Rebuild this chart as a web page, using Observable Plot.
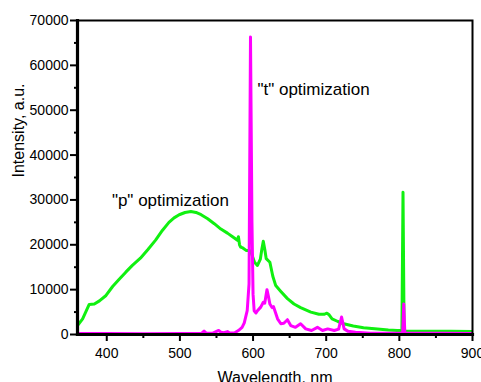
<!DOCTYPE html>
<html>
<head>
<meta charset="utf-8">
<script src="https://cdn.jsdelivr.net/npm/d3@7"></script>
<script src="https://cdn.jsdelivr.net/npm/@observablehq/plot@0.6"></script>
<style>
  html, body { margin: 0; padding: 0; background: #fff; }
  #chart { width: 481px; height: 382px; overflow: hidden; }
</style>
</head>
<body>
<div id="chart"></div>
<script>
// "p" optimization spectrum (green)
const pWavelength = [360, 367, 376, 383, 390, 399, 408, 417, 426, 435, 446, 456, 467, 476, 485, 492, 499, 507, 515, 522, 529, 538, 547, 556, 565, 572, 578.7, 580, 581.5, 583, 586, 591, 595, 598, 602, 606, 610, 612, 614, 616, 618, 623, 627, 631, 638, 647, 656, 665, 679, 690, 697, 701, 704, 708, 716, 724, 737, 751, 770, 785, 797, 803.5, 805, 806.5, 815, 840, 870, 900];
const pIntensity  = [2000, 3500, 6700, 6800, 7500, 8700, 10700, 12300, 13900, 15400, 17000, 18900, 21100, 23200, 25000, 26000, 26700, 27200, 27400, 27200, 26700, 25800, 24700, 23500, 22600, 21800, 21000, 21800, 20000, 19500, 19300, 18700, 18800, 18000, 16100, 15400, 16800, 19000, 20800, 19000, 16900, 16100, 13000, 10900, 9600, 8000, 6800, 6000, 5000, 4500, 4500, 4750, 4400, 3500, 2900, 2400, 1900, 1500, 1200, 1000, 900, 900, 31700, 800, 750, 700, 700, 650];

// "t" optimization spectrum (magenta)
const tWavelength = [360, 400, 450, 500, 520, 530, 533, 536, 545, 553, 556, 560, 565, 568, 575, 581, 585, 588, 592, 594.5, 596.5, 598.5, 600, 601.5, 604, 606, 610.5, 614, 616, 619, 621, 623, 626, 628, 633.5, 638, 642, 647, 651.5, 658, 665, 672, 680, 688, 695, 702, 711, 717, 721, 724.5, 730, 740, 760, 800, 804.5, 806, 807.5, 820, 860, 900];
const tIntensity  = [200, 200, 150, 200, 200, 300, 750, 300, 300, 900, 500, 400, 650, 350, 400, 1000, 1600, 2600, 5300, 11300, 66300, 25000, 9000, 5300, 4800, 5300, 6100, 7200, 7000, 10000, 8500, 6800, 6000, 6200, 3500, 2400, 2500, 3300, 2000, 1600, 2400, 1250, 900, 1600, 900, 1250, 900, 1200, 3900, 1250, 700, 500, 300, 300, 300, 6800, 300, 300, 300, 250];

const xDomain = [360, 900];
const yDomain = [0, 70000];
const xTicks = [400, 500, 600, 700, 800, 900];
const xMinorTicks = [450, 550, 650, 750, 850];
const yTicks = [0, 10000, 20000, 30000, 40000, 50000, 60000, 70000];
const yMinorTicks = [5000, 15000, 25000, 35000, 45000, 55000, 65000];

const annotations = [
  {label: "\"t\" optimization", wl: 606, value: 54500},
  {label: "\"p\" optimization", wl: 407, value: 29900}
];
const xTitle = "Wavelength, nm";
const yTitle = "Intensity, a.u.";

const pData = pWavelength.map((w, i) => ({w, v: pIntensity[i]}));
const tData = tWavelength.map((w, i) => ({w, v: tIntensity[i]}));

const font = "'Liberation Sans', Arial, sans-serif";

const chart = Plot.plot({
  width: 481,
  height: 382,
  marginLeft: 77,
  marginRight: 9,
  marginTop: 20,
  marginBottom: 48,
  style: {fontFamily: font, background: "#fff", color: "#000"},
  x: {domain: xDomain},
  y: {domain: yDomain},
  marks: [
    Plot.line(pData, {x: "w", y: "v", stroke: "#10f010", strokeWidth: 3, strokeLinejoin: "round", clip: true}),
    Plot.line(tData, {x: "w", y: "v", stroke: "#ff00ff", strokeWidth: 3, strokeLinejoin: "round", clip: true}),
    Plot.frame({stroke: "#000", strokeWidth: 2}),
    Plot.axisX({ticks: xTicks, tickSize: 7, tickPadding: 7, tickFormat: "d", fontSize: 14, label: null, strokeWidth: 2}),
    Plot.axisX({ticks: xMinorTicks, tickSize: 4, text: null, label: null, strokeWidth: 2}),
    Plot.axisY({ticks: yTicks, tickSize: 7, tickPadding: 2, tickFormat: "d", fontSize: 14, label: null, strokeWidth: 2}),
    Plot.axisY({ticks: yMinorTicks, tickSize: 3, text: null, label: null, strokeWidth: 2}),
    Plot.frame({anchor: "left", stroke: "#000", strokeWidth: 3.2}),
    Plot.frame({anchor: "bottom", stroke: "#000", strokeWidth: 3.2}),
    Plot.text(annotations, {x: "wl", y: "value", text: "label", textAnchor: "start", lineAnchor: "middle", fontSize: 17, fill: "#000"}),
    Plot.text([xTitle], {frameAnchor: "bottom", dy: 43, lineAnchor: "middle", fontSize: 16, fill: "#000"}),
    Plot.text([yTitle], {frameAnchor: "left", dx: -59, rotate: -90, lineAnchor: "middle", fontSize: 16, fill: "#000"})
  ]
});
document.getElementById("chart").appendChild(chart);
</script>
</body>
</html>
